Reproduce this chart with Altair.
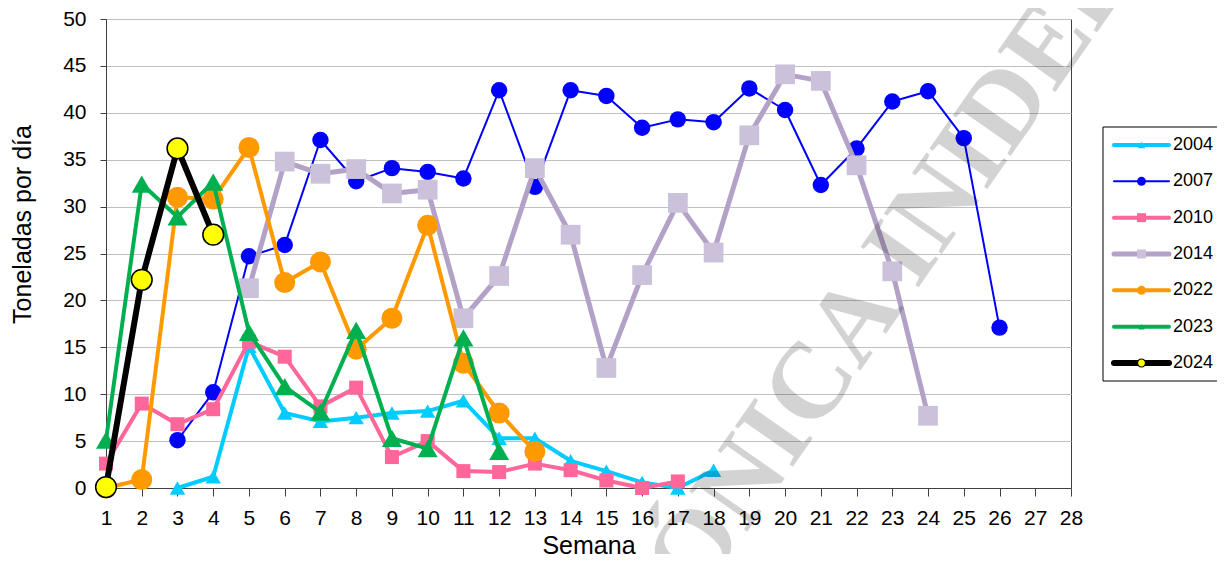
import altair as alt
import pandas as pd

# ---------------- data ----------------
weeks = list(range(1, 29))
y_ticks = list(range(0, 51, 5))
years = ["2004", "2007", "2010", "2014", "2022", "2023", "2024"]

start_2004 = 3
vals_2004 = [0.0, 1.2, 15.1, 8.0, 7.1, 7.5, 8.0, 8.2, 9.3, 5.3, 5.3, 2.9, 1.8, 0.6, 0.0, 1.9]
start_2007 = 3
vals_2007 = [5.1, 10.2, 24.7, 25.9, 37.1, 32.7, 34.1, 33.7, 33.0, 42.4, 32.1, 42.4,
             41.8, 38.4, 39.3, 39.0, 42.6, 40.3, 32.3, 36.2, 41.2, 42.3, 37.3, 17.1]
start_2010 = 1
vals_2010 = [2.6, 9.0, 6.8, 8.4, 15.6, 14.0, 8.7, 10.7, 3.3, 5.0, 1.8, 1.7, 2.6, 1.9, 0.8, 0.0, 0.7]
start_2014 = 5
vals_2014 = [21.3, 34.8, 33.5, 34.0, 31.4, 31.8, 18.1, 22.6, 34.1, 27.0, 12.8, 22.7,
             30.4, 25.1, 37.6, 44.1, 43.4, 34.4, 23.1, 7.7]
start_2022 = 1
vals_2022 = [0.0, 0.9, 31.0, 30.8, 36.3, 21.9, 24.1, 14.8, 18.1, 28.0, 13.3, 8.0, 3.9]
start_2023 = 1
vals_2023 = [5.1, 32.4, 28.9, 32.6, 16.6, 10.8, 8.1, 16.8, 5.3, 4.2, 16.0, 3.9]
start_2024 = 1
vals_2024 = [0.1, 22.2, 36.2, 27.0]

series_values = [vals_2004, vals_2007, vals_2010, vals_2014, vals_2022, vals_2023, vals_2024]
series_start = [start_2004, start_2007, start_2010, start_2014, start_2022, start_2023, start_2024]

x_title = "Semana"
y_title = "Toneladas por día"
watermark_text = "ELECTRÓNICA INIDEP"

# ---------------- styles ----------------
line_colors = ["#00CCFF", "#0000FF", "#FF6699", "#B3A2C7", "#FF9900", "#00B050", "#000000"]
marker_fill = ["#00CCFF", "#0000FF", "#FF6699", "#CCC1DA", "#FF9900", "#00B050", "#FFFF00"]
marker_stroke = [None, None, None, None, None, None, "#000000"]
marker_shape = ["triangle-up", "circle", "square", "square", "circle", "triangle-up", "circle"]
marker_size = [240, 270, 196, 390, 440, 400, 430]
legend_marker_size = [60, 80, 80, 80, 80, 40, 64]
line_width = [4, 2, 4, 5, 4, 4, 6]

FONT = "Liberation Sans"

rows = []
for yr, st, vals in zip(years, series_start, series_values):
    for i, v in enumerate(vals):
        rows.append({"year": yr, "semana": st + i, "valor": v})
df = pd.DataFrame(rows)

x_enc = alt.X(
    "semana:Q",
    scale=alt.Scale(domain=[1, 28], nice=False, zero=False),
    axis=alt.Axis(
        values=weeks, title=x_title, grid=False, format="d",
        labelFontSize=21, labelFont=FONT, labelColor="black", labelPadding=11,
        tickSize=8, tickColor="#404040", domainColor="#404040", labelFlush=False,
        titleFontSize=25, titleFont=FONT, titleFontWeight="normal", titleColor="black",
        titleY=65, titleBaseline="alphabetic",
    ),
)
y_enc = alt.Y(
    "valor:Q",
    scale=alt.Scale(domain=[0, 50], nice=False),
    axis=alt.Axis(
        values=y_ticks, title=y_title, grid=True, gridColor="#C0C0C0", gridWidth=1,
        labelFontSize=21, labelFont=FONT, labelColor="black", labelPadding=14,
        tickSize=6, tickColor="#404040", domainColor="#404040",
        titleFontSize=25, titleFont=FONT, titleFontWeight="normal", titleColor="black",
        titleX=-84, titleY=205, titleAngle=270, titleAlign="center", titleBaseline="middle",
    ),
)

base = alt.Chart(df)
series_layers = []
for k, yr in enumerate(years):
    sub = base.transform_filter(alt.datum.year == yr)
    series_layers.append(
        sub.mark_line(color=line_colors[k], strokeWidth=line_width[k],
                      strokeJoin="round", strokeCap="round").encode(x=x_enc, y=y_enc)
    )
    pt_kwargs = dict(shape=marker_shape[k], size=marker_size[k], filled=True,
                     fill=marker_fill[k], opacity=1, fillOpacity=1)
    if marker_stroke[k]:
        pt_kwargs.update(stroke=marker_stroke[k], strokeWidth=1.5)
    else:
        pt_kwargs.update(strokeWidth=0)
    series_layers.append(sub.mark_point(**pt_kwargs).encode(x=x_enc, y=y_enc))

main = alt.layer(*series_layers)

# ---------------- legend ----------------
leg_df = pd.DataFrame({"year": years, "li": list(range(len(years))),
                       "x0": [0.0] * 7, "x1": [1.0] * 7, "xm": [0.5] * 7})
lx_scale = alt.Scale(domain=[0, 1], range=[1008, 1063])
ly_scale = alt.Scale(domain=[0, 6], range=[126, 344])
lbase = alt.Chart(leg_df)

box = lbase.transform_filter(alt.datum.li == 0).mark_rect(
    fill="white", stroke="black", strokeWidth=1
).encode(x=alt.value(997), x2=alt.value(1118), y=alt.value(108), y2=alt.value(362))

legend_layers = [box]
for k, yr in enumerate(years):
    s = lbase.transform_filter(alt.datum.year == yr)
    legend_layers.append(
        s.mark_rule(color=line_colors[k], strokeWidth=line_width[k], strokeCap="round").encode(
            x=alt.X("x0:Q", scale=lx_scale, axis=None), x2="x1:Q",
            y=alt.Y("li:Q", scale=ly_scale, axis=None))
    )
    kw = dict(shape=marker_shape[k], size=legend_marker_size[k], filled=True,
              fill=marker_fill[k], opacity=1)
    if marker_stroke[k]:
        kw.update(stroke=marker_stroke[k], strokeWidth=1.2)
    else:
        kw.update(strokeWidth=0)
    legend_layers.append(
        s.mark_point(**kw).encode(
            x=alt.X("xm:Q", scale=lx_scale, axis=None),
            y=alt.Y("li:Q", scale=ly_scale, axis=None))
    )
legend_layers.append(
    lbase.mark_text(align="left", baseline="middle", fontSize=18, font=FONT,
                    color="black", dx=4).encode(
        x=alt.X("x1:Q", scale=lx_scale, axis=None),
        y=alt.Y("li:Q", scale=ly_scale, axis=None),
        text="year:N")
)
legend = alt.layer(*legend_layers)

# ---------------- watermark ----------------
wm = alt.Chart(pd.DataFrame({"t": [watermark_text]})).mark_text(
    font="Liberation Serif", fontWeight="bold", fontSize=108, angle=305,
    align="center", baseline="middle", color="#000000", opacity=0.17,
).encode(x=alt.value(656), y=alt.value(436), text="t:N")

chart = alt.layer(main, legend, wm).resolve_scale(
    x="independent", y="independent"
).properties(
    width=965, height=469,
    autosize=alt.AutoSizeParams(type="none"),
    padding={"left": 98, "top": 11, "right": 146, "bottom": 66},
    background="white",
).configure_view(stroke="#404040", strokeWidth=1)

chart.save("out.html", embed_options={"renderer": "svg", "actions": False})
